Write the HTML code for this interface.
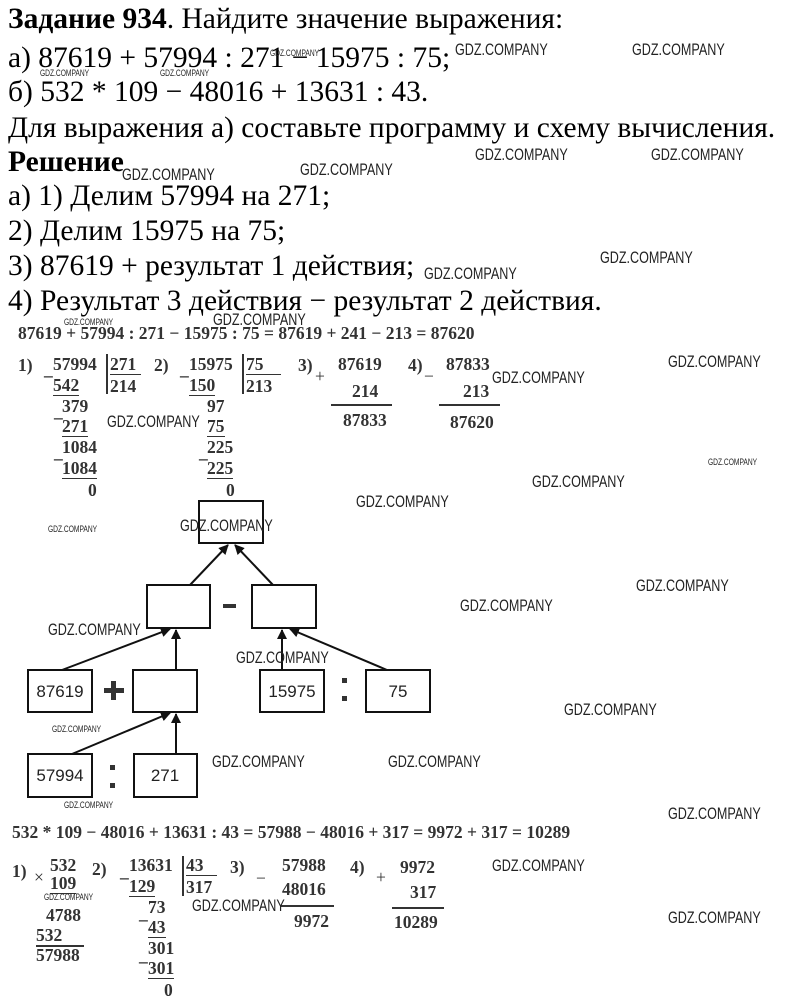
<!DOCTYPE html>
<html><head><meta charset="utf-8"><style>
body{margin:0;width:800px;height:1006px;background:#fff;position:relative;overflow:hidden;font-family:"Liberation Serif","DejaVu Serif",serif;color:#000}
.t{position:absolute;left:8px;font-size:29.5px;white-space:nowrap;line-height:30px}
.s{position:absolute;font-size:17.5px;color:#333;white-space:nowrap;font-family:"Liberation Serif",serif;font-weight:bold;line-height:18px}
.w{position:absolute;font-family:"Liberation Sans Narrow","Liberation Sans",sans-serif;font-size:17px;color:#222;white-space:nowrap;transform:scaleX(0.74);transform-origin:left}
.ws{font-size:9px}
.u{border-bottom:1.5px solid #333}
.ln{position:absolute;background:#333}
</style></head><body>
<div class="t" style="top:4px"><b style="font-family:'Liberation Serif',serif">Задание 934</b>. Найдите значение выражения:</div>
<div class="t" style="top:43px">а) 87619 + 57994 : 271 − 15975 : 75;</div>
<div class="t" style="top:77px">б) 532 * 109 − 48016 + 13631 : 43.</div>
<div class="t" style="top:113px">Для выражения а) составьте программу и схему вычисления.</div>
<div class="t" style="top:147px"><b>Решение</b></div>
<div class="t" style="top:181px">а) 1) Делим 57994 на 271;</div>
<div class="t" style="top:216px">2) Делим 15975 на 75;</div>
<div class="t" style="top:251px">3) 87619 + результат 1 действия;</div>
<div class="t" style="top:286px">4) Результат 3 действия − результат 2 действия.</div>

<div class="s" style="left:18px;top:324px">87619 + 57994 : 271 − 15975 : 75 = 87619 + 241 − 213 = 87620</div>
<!-- division 1 -->
<div class="s" style="left:18px;top:356px">1)</div>
<div class="s" style="left:44px;top:360px">_</div>
<div class="s" style="left:53px;top:355px">57994</div>
<div class="s" style="left:53px;top:376px"><span class="u">542</span></div>
<div class="ln" style="left:106px;top:354px;width:1.5px;height:40px"></div>
<div class="s" style="left:110px;top:355px"><span class="u">271&nbsp;</span></div>
<div class="s" style="left:110px;top:377px">214</div>
<div class="s" style="left:54px;top:402px">_</div>
<div class="s" style="left:62px;top:397px">379</div>
<div class="s" style="left:62px;top:417px"><span class="u">271</span></div>
<div class="s" style="left:54px;top:443px">_</div>
<div class="s" style="left:62px;top:438px">1084</div>
<div class="s" style="left:62px;top:459px"><span class="u">1084</span></div>
<div class="s" style="left:88px;top:481px">0</div>
<!-- division 2 -->
<div class="s" style="left:154px;top:356px">2)</div>
<div class="s" style="left:180px;top:360px">_</div>
<div class="s" style="left:189px;top:355px">15975</div>
<div class="s" style="left:189px;top:376px"><span class="u">150</span></div>
<div class="ln" style="left:242px;top:354px;width:1.5px;height:40px"></div>
<div class="s" style="left:246px;top:355px"><span class="u">75&nbsp;&nbsp;&nbsp;&nbsp;</span></div>
<div class="s" style="left:246px;top:377px">213</div>
<div class="s" style="left:207px;top:397px">97</div>
<div class="s" style="left:207px;top:417px"><span class="u">75</span></div>
<div class="s" style="left:199px;top:443px">_</div>
<div class="s" style="left:207px;top:438px">225</div>
<div class="s" style="left:207px;top:459px"><span class="u">225</span></div>
<div class="s" style="left:226px;top:481px">0</div>
<!-- 3 -->
<div class="s" style="left:298px;top:356px">3)</div>
<div class="s" style="left:315px;top:367px;font-weight:normal">+</div>
<div class="s" style="left:338px;top:355px">87619</div>
<div class="s" style="left:352px;top:382px">214</div>
<div class="ln" style="left:331px;top:404px;width:61px;height:1.5px"></div>
<div class="s" style="left:343px;top:411px">87833</div>
<div class="s" style="left:408px;top:356px">4)</div>
<div class="s" style="left:424px;top:367px;font-weight:normal">−</div>
<div class="s" style="left:446px;top:355px">87833</div>
<div class="s" style="left:463px;top:382px">213</div>
<div class="ln" style="left:439px;top:404px;width:61px;height:1.5px"></div>
<div class="s" style="left:450px;top:413px">87620</div>

<!-- diagram -->
<svg style="position:absolute;left:0;top:0" width="800" height="1006">
<defs><marker id="a" markerWidth="10" markerHeight="10" refX="9" refY="5" orient="auto" markerUnits="userSpaceOnUse"><path d="M0,0 L10,5 L0,10 z" fill="#111"/></marker></defs>
<g fill="#fff" stroke="#111" stroke-width="2">
<rect x="199" y="501" width="64" height="42"/>
<rect x="147" y="585" width="63" height="43"/>
<rect x="252" y="585" width="64" height="43"/>
<rect x="28" y="670" width="64" height="42"/>
<rect x="133" y="670" width="64" height="42"/>
<rect x="260" y="670" width="64" height="42"/>
<rect x="366" y="670" width="64" height="42"/>
<rect x="28" y="754" width="64" height="43"/>
<rect x="134" y="754" width="63" height="43"/>
</g>
<g stroke="#111" stroke-width="2" marker-end="url(#a)">
<line x1="190" y1="585" x2="228" y2="545"/>
<line x1="273" y1="585" x2="235" y2="545"/>
<line x1="62" y1="670" x2="170" y2="629"/>
<line x1="176" y1="670" x2="176" y2="630"/>
<line x1="282" y1="670" x2="282" y2="630"/>
<line x1="387" y1="670" x2="290" y2="629"/>
<line x1="72" y1="754" x2="170" y2="713"/>
<line x1="176" y1="754" x2="176" y2="714"/>
</g>
<g font-family="Liberation Sans, sans-serif" font-size="17" fill="#222" text-anchor="middle">
<text x="60" y="697">87619</text><text x="292" y="697">15975</text><text x="398" y="697">75</text>
<text x="60" y="781">57994</text><text x="165" y="781">271</text>
</g>
<rect x="223" y="604" width="13" height="4" fill="#333"/>
<rect x="104" y="688" width="20" height="5" fill="#333"/><rect x="111" y="681" width="5" height="19" fill="#333"/>
<rect x="342" y="678" width="5" height="5" fill="#333"/><rect x="342" y="696" width="5" height="5" fill="#333"/>
<rect x="110" y="765" width="5" height="5" fill="#333"/><rect x="110" y="783" width="5" height="5" fill="#333"/>
</svg>

<div class="s" style="left:12px;top:823px">532 * 109 − 48016 + 13631 : 43 = 57988 − 48016 + 317 = 9972 + 317 = 10289</div>
<div class="s" style="left:12px;top:862px">1)</div>
<div class="s" style="left:34px;top:868px;font-weight:normal">×</div>
<div class="s" style="left:50px;top:856px">532</div>
<div class="s" style="left:50px;top:874px"><span class="u">109</span></div>
<div class="s" style="left:46px;top:906px">4788</div>
<div class="s" style="left:36px;top:926px">532</div>
<div class="ln" style="left:36px;top:945px;width:48px;height:1.5px"></div>
<div class="s" style="left:36px;top:946px">57988</div>
<div class="s" style="left:92px;top:860px">2)</div>
<div class="s" style="left:120px;top:862px">_</div>
<div class="s" style="left:129px;top:856px">13631</div>
<div class="s" style="left:129px;top:877px"><span class="u">129</span></div>
<div class="ln" style="left:182px;top:856px;width:1.5px;height:40px"></div>
<div class="s" style="left:186px;top:856px"><span class="u">43&nbsp;&nbsp;&nbsp;</span></div>
<div class="s" style="left:186px;top:878px">317</div>
<div class="s" style="left:139px;top:904px">_</div>
<div class="s" style="left:148px;top:898px">73</div>
<div class="s" style="left:148px;top:918px"><span class="u">43</span></div>
<div class="s" style="left:139px;top:946px">_</div>
<div class="s" style="left:148px;top:939px">301</div>
<div class="s" style="left:148px;top:959px"><span class="u">301</span></div>
<div class="s" style="left:164px;top:981px">0</div>
<div class="s" style="left:230px;top:858px">3)</div>
<div class="s" style="left:256px;top:869px;font-weight:normal">−</div>
<div class="s" style="left:282px;top:856px">57988</div>
<div class="s" style="left:282px;top:880px">48016</div>
<div class="ln" style="left:280px;top:905px;width:54px;height:1.5px"></div>
<div class="s" style="left:294px;top:912px">9972</div>
<div class="s" style="left:350px;top:858px">4)</div>
<div class="s" style="left:376px;top:868px;font-weight:normal">+</div>
<div class="s" style="left:400px;top:858px">9972</div>
<div class="s" style="left:410px;top:883px">317</div>
<div class="ln" style="left:392px;top:907px;width:52px;height:1.5px"></div>
<div class="s" style="left:394px;top:913px">10289</div>

<!-- watermarks -->
<div class="w" style="left:455px;top:40px">GDZ.COMPANY</div>
<div class="w" style="left:632px;top:40px">GDZ.COMPANY</div>
<div class="w" style="left:475px;top:145px">GDZ.COMPANY</div>
<div class="w" style="left:651px;top:145px">GDZ.COMPANY</div>
<div class="w" style="left:122px;top:165px">GDZ.COMPANY</div>
<div class="w" style="left:300px;top:160px">GDZ.COMPANY</div>
<div class="w" style="left:600px;top:248px">GDZ.COMPANY</div>
<div class="w" style="left:424px;top:264px">GDZ.COMPANY</div>
<div class="w" style="left:213px;top:310px">GDZ.COMPANY</div>
<div class="w" style="left:668px;top:352px">GDZ.COMPANY</div>
<div class="w" style="left:492px;top:368px">GDZ.COMPANY</div>
<div class="w" style="left:107px;top:412px">GDZ.COMPANY</div>
<div class="w" style="left:532px;top:472px">GDZ.COMPANY</div>
<div class="w" style="left:356px;top:492px">GDZ.COMPANY</div>
<div class="w" style="left:180px;top:516px">GDZ.COMPANY</div>
<div class="w" style="left:636px;top:576px">GDZ.COMPANY</div>
<div class="w" style="left:460px;top:596px">GDZ.COMPANY</div>
<div class="w" style="left:48px;top:620px">GDZ.COMPANY</div>
<div class="w" style="left:236px;top:648px">GDZ.COMPANY</div>
<div class="w" style="left:564px;top:700px">GDZ.COMPANY</div>
<div class="w" style="left:212px;top:752px">GDZ.COMPANY</div>
<div class="w" style="left:388px;top:752px">GDZ.COMPANY</div>
<div class="w" style="left:668px;top:804px">GDZ.COMPANY</div>
<div class="w" style="left:492px;top:856px">GDZ.COMPANY</div>
<div class="w" style="left:192px;top:896px">GDZ.COMPANY</div>
<div class="w" style="left:668px;top:908px">GDZ.COMPANY</div>
<div class="w ws" style="left:40px;top:68px">GDZ.COMPANY</div>
<div class="w ws" style="left:160px;top:68px">GDZ.COMPANY</div>
<div class="w ws" style="left:270px;top:48px">GDZ.COMPANY</div>
<div class="w ws" style="left:64px;top:317px">GDZ.COMPANY</div>
<div class="w ws" style="left:48px;top:524px">GDZ.COMPANY</div>
<div class="w ws" style="left:708px;top:457px">GDZ.COMPANY</div>
<div class="w ws" style="left:52px;top:724px">GDZ.COMPANY</div>
<div class="w ws" style="left:64px;top:800px">GDZ.COMPANY</div>
<div class="w ws" style="left:44px;top:892px">GDZ.COMPANY</div>
</body></html>
